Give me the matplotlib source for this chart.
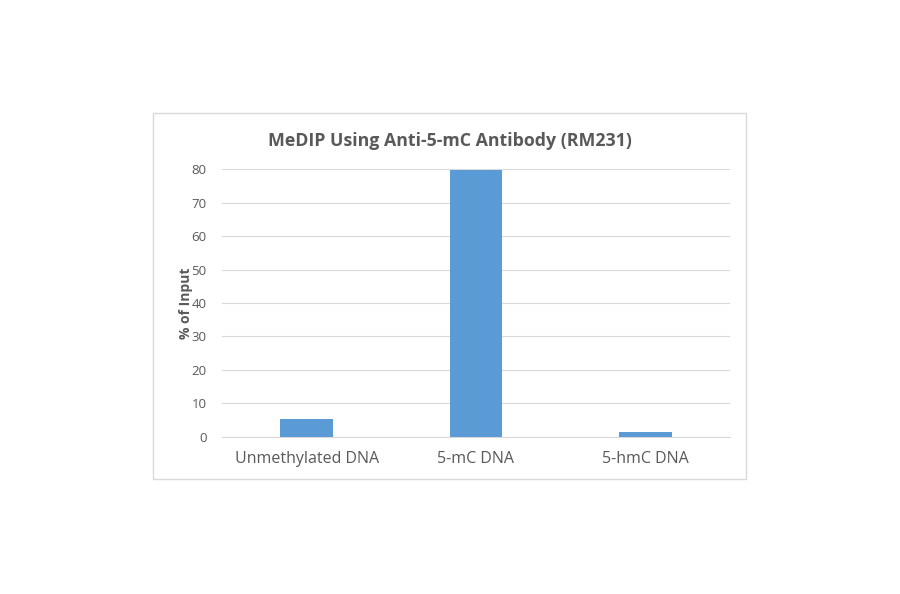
import matplotlib.pyplot as plt
from matplotlib.patches import Rectangle

categories = ['Unmethylated DNA', '5-mC DNA', '5-hmC DNA']
pct_input = [5.2, 79.8, 1.5]
yticks = [0, 10, 20, 30, 40, 50, 60, 70, 80]

plt.rcParams['font.family'] = ['Open Sans', 'DejaVu Sans']
grey = '#595959'

fig = plt.figure(figsize=(9, 5.94), dpi=100)
fig.patch.set_facecolor('white')

# chart area border
fig.patches.append(Rectangle((153 / 900, 115 / 594), 593 / 900, 366 / 594,
                             transform=fig.transFigure, fill=False,
                             edgecolor='#d9d9d9', linewidth=1.0))

ax = fig.add_axes([222 / 900, 157.3 / 594, 508 / 900, 267.4 / 594])
x = range(len(categories))
ax.bar(x, pct_input, width=0.31, color='#5b9bd5', zorder=3, clip_on=False)

ax.set_xlim(-0.5, 2.5)
ax.set_ylim(0, 80)
ax.set_yticks(yticks)
ax.set_xticks(list(x))
ax.set_xticklabels(categories, fontsize=11.5, color=grey)
ax.tick_params(axis='y', labelsize=9.5, colors=grey, length=0, pad=11)
ax.tick_params(axis='x', length=0, pad=10)
ax.grid(axis='y', color='#d9d9d9', linewidth=0.8, zorder=0)
for s in ['top', 'right', 'left']:
    ax.spines[s].set_visible(False)
ax.spines['bottom'].set_color('#d9d9d9')
ax.spines['bottom'].set_linewidth(0.8)

ax.set_ylabel('% of Input', fontsize=10, fontweight='bold', color=grey, labelpad=-1)
fig.text(449.5 / 900, 1 - 141 / 594, 'MeDIP Using Anti-5-mC Antibody (RM231)',
         ha='center', va='center', fontsize=12.8, fontweight='bold', color=grey)

fig.savefig('out.png', dpi=100)
